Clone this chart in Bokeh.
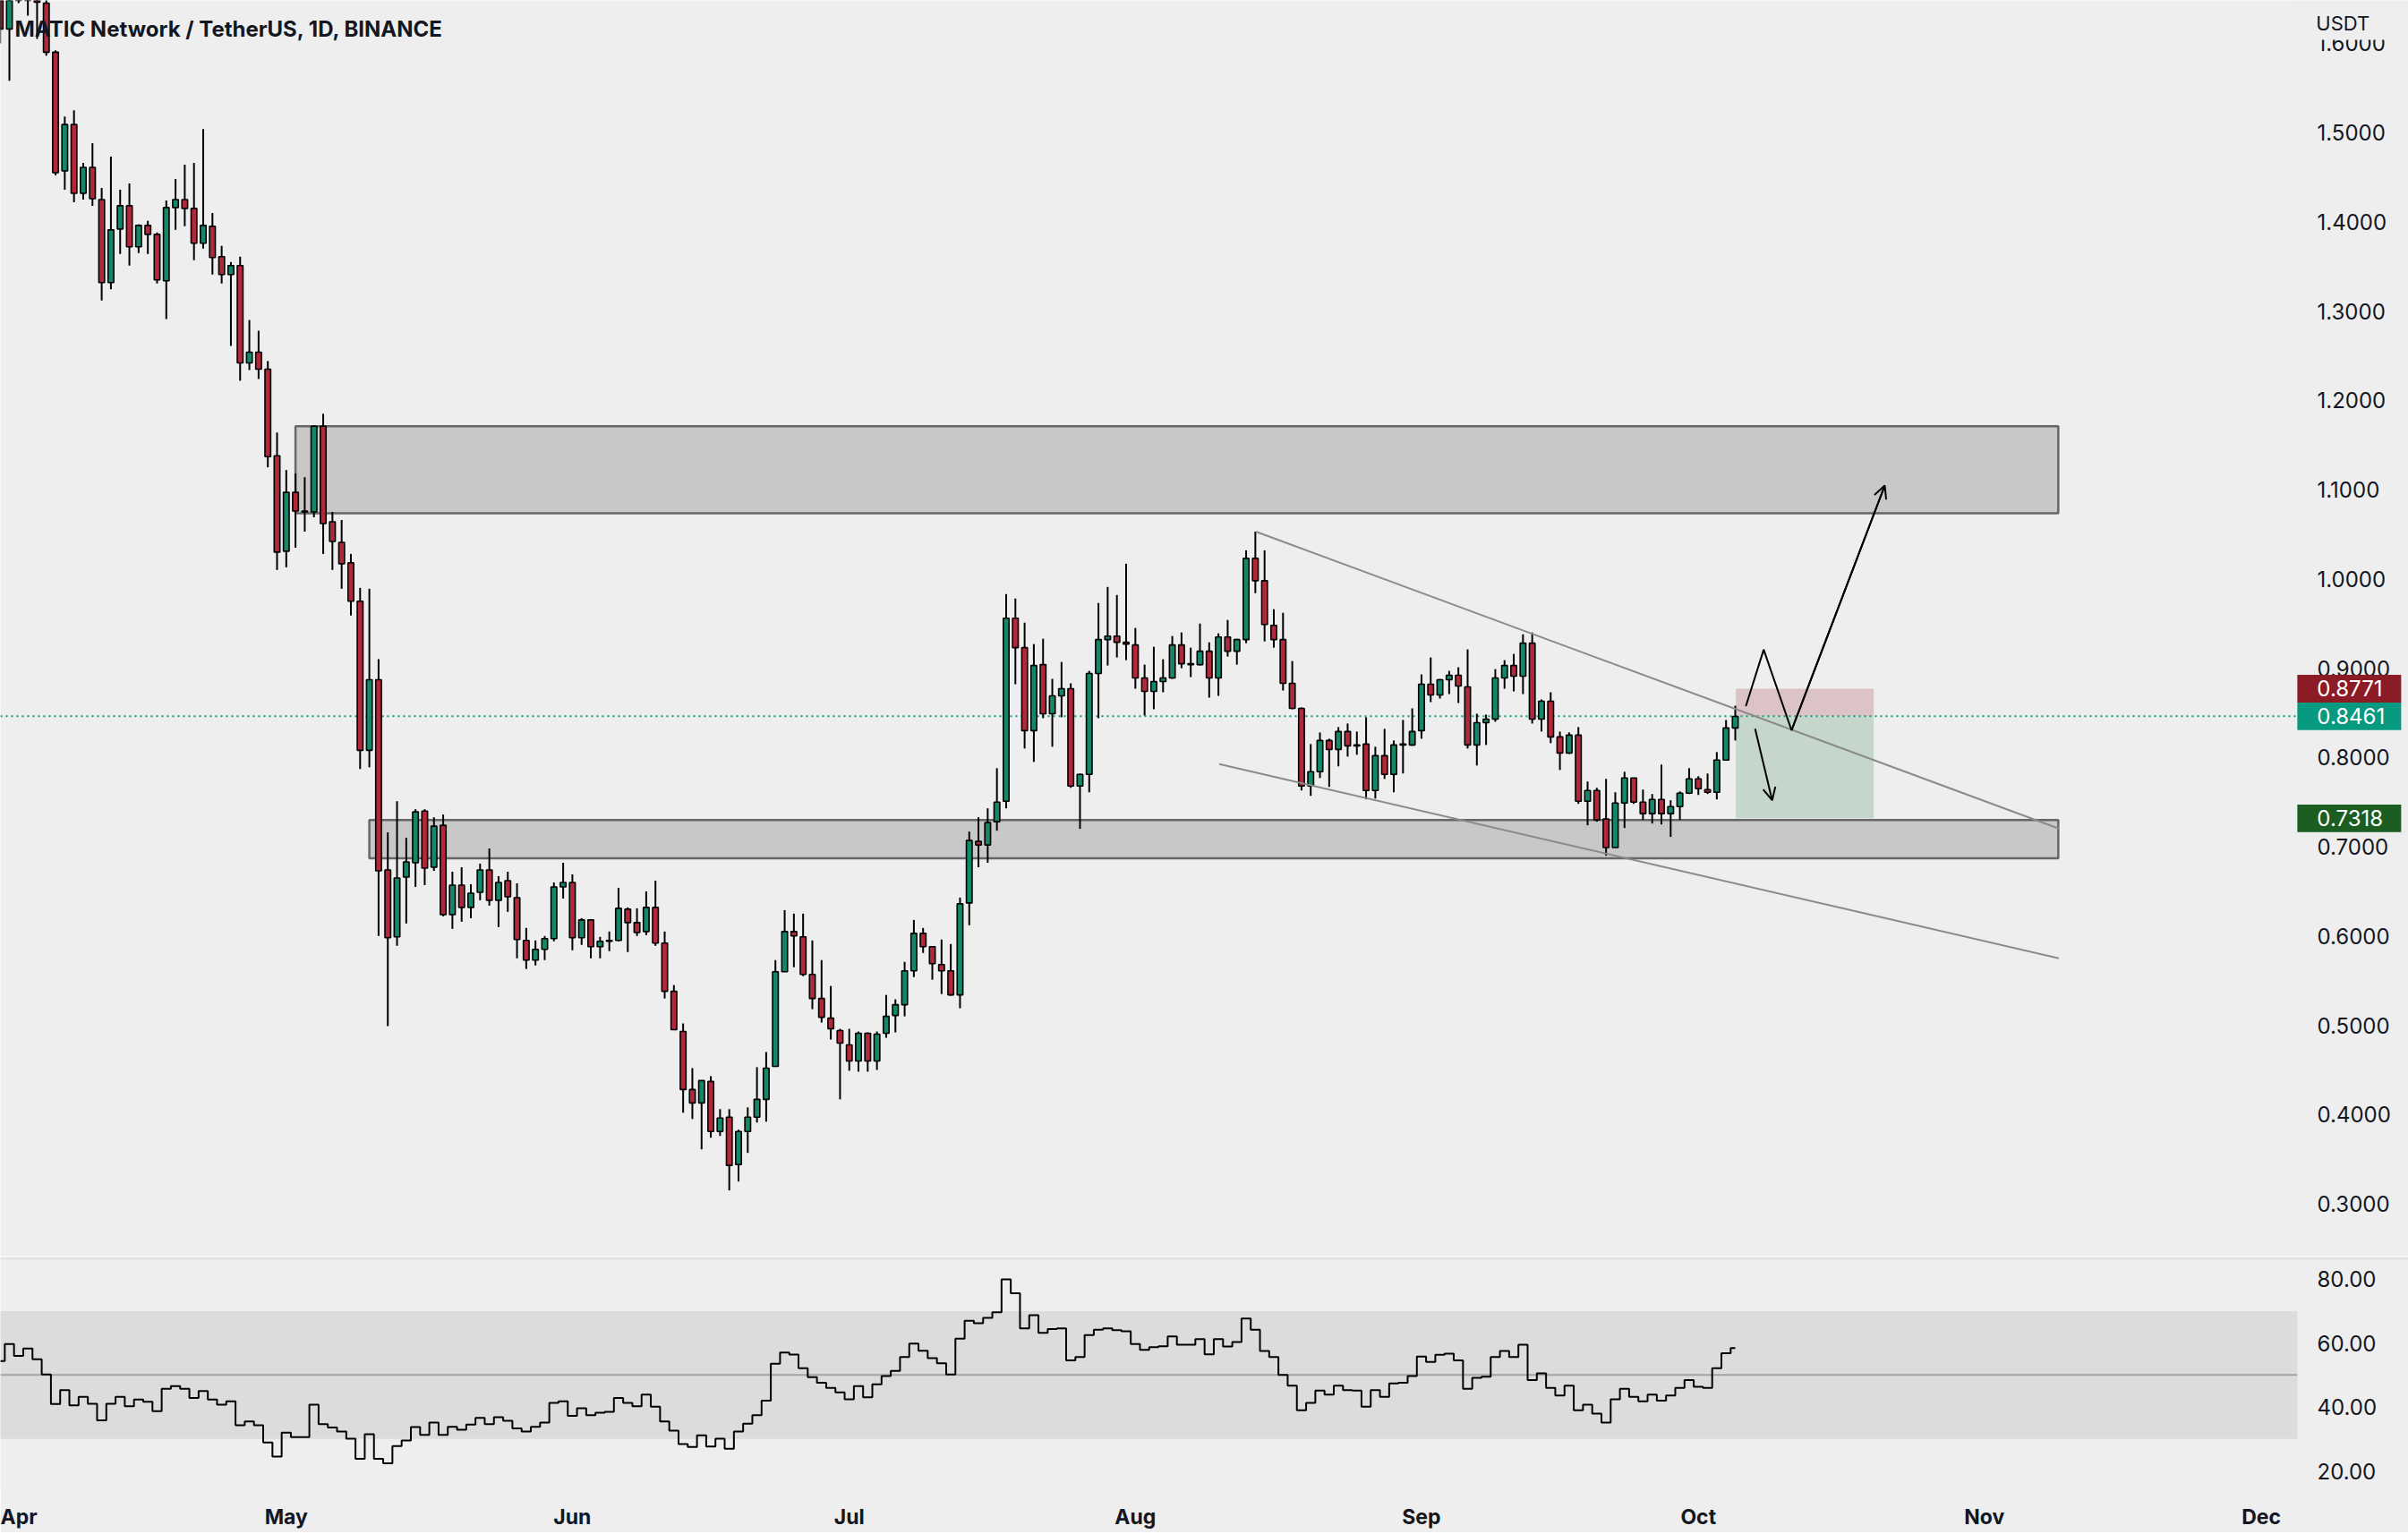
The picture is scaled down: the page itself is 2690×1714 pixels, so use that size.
from bokeh.plotting import figure
from bokeh.layouts import column
from bokeh.models import (Range1d, FixedTicker, PrintfTickFormatter, Label, Span,
                          Arrow, OpenHead, BoxAnnotation)
from bokeh.embed import file_html
from bokeh.resources import INLINE

# ---------------- data (day index: 0 = 1 Apr 2022) ----------------
day = list(range(-1, 188))

open_ = [1.660, 1.616, 1.690, 1.672, 1.690, 1.645, 1.590, 1.457, 1.509, 1.432,
         1.461, 1.425, 1.332, 1.392, 1.418, 1.372, 1.396, 1.386, 1.334, 1.416,
         1.425, 1.415, 1.376, 1.395, 1.361, 1.341, 1.351, 1.242, 1.254, 1.235,
         1.138, 1.031, 1.097, 1.076, 1.075, 1.171, 1.064, 1.041, 1.018, 0.975,
         0.808, 0.887, 0.674, 0.599, 0.666, 0.682, 0.740, 0.677, 0.724, 0.624,
         0.657, 0.632, 0.649, 0.674, 0.640, 0.662, 0.643, 0.595, 0.573, 0.585,
         0.597, 0.655, 0.660, 0.598, 0.618, 0.588, 0.594, 0.595, 0.630, 0.615,
         0.605, 0.632, 0.592, 0.538, 0.493, 0.428, 0.413, 0.437, 0.381, 0.397,
         0.344, 0.381, 0.397, 0.417, 0.454, 0.560, 0.605, 0.599, 0.557, 0.530,
         0.508, 0.494, 0.478, 0.460, 0.491, 0.460, 0.491, 0.511, 0.523, 0.561,
         0.603, 0.588, 0.568, 0.561, 0.534, 0.637, 0.706, 0.702, 0.728, 0.751,
         0.956, 0.923, 0.830, 0.904, 0.849, 0.869, 0.877, 0.768, 0.781, 0.894,
         0.932, 0.936, 0.929, 0.926, 0.889, 0.874, 0.885, 0.889, 0.926, 0.905,
         0.904, 0.919, 0.889, 0.935, 0.919, 0.932, 1.023, 0.998, 0.948, 0.932,
         0.883, 0.855, 0.768, 0.784, 0.819, 0.809, 0.829, 0.813, 0.815, 0.763,
         0.802, 0.781, 0.814, 0.814, 0.830, 0.882, 0.870, 0.887, 0.892, 0.879,
         0.814, 0.839, 0.843, 0.889, 0.903, 0.891, 0.928, 0.843, 0.863, 0.823,
         0.805, 0.825, 0.751, 0.763, 0.731, 0.699, 0.749, 0.777, 0.750, 0.737,
         0.753, 0.737, 0.745, 0.760, 0.776, 0.764, 0.761, 0.797, 0.833]

high = [1.680, 1.705, 1.720, 1.700, 1.700, 1.650, 1.592, 1.518, 1.525, 1.466,
        1.488, 1.438, 1.473, 1.436, 1.443, 1.397, 1.401, 1.388, 1.424, 1.448,
        1.464, 1.466, 1.504, 1.410, 1.373, 1.355, 1.361, 1.290, 1.278, 1.244,
        1.164, 1.122, 1.118, 1.114, 1.172, 1.185, 1.075, 1.066, 1.028, 0.990,
        0.989, 0.910, 0.716, 0.751, 0.710, 0.742, 0.742, 0.733, 0.736, 0.672,
        0.677, 0.658, 0.681, 0.698, 0.667, 0.672, 0.659, 0.609, 0.595, 0.600,
        0.660, 0.682, 0.669, 0.620, 0.619, 0.599, 0.605, 0.654, 0.632, 0.631,
        0.650, 0.662, 0.605, 0.545, 0.502, 0.452, 0.438, 0.443, 0.406, 0.406,
        0.383, 0.408, 0.453, 0.470, 0.573, 0.629, 0.625, 0.625, 0.595, 0.573,
        0.544, 0.496, 0.496, 0.493, 0.492, 0.493, 0.534, 0.529, 0.571, 0.618,
        0.609, 0.588, 0.596, 0.591, 0.643, 0.717, 0.733, 0.743, 0.788, 0.983,
        0.978, 0.951, 0.927, 0.933, 0.888, 0.907, 0.883, 0.782, 0.897, 0.973,
        0.991, 0.982, 1.017, 0.945, 0.904, 0.924, 0.910, 0.936, 0.940, 0.923,
        0.950, 0.929, 0.939, 0.954, 0.933, 1.032, 1.053, 1.032, 0.966, 0.962,
        0.908, 0.856, 0.815, 0.828, 0.821, 0.834, 0.838, 0.829, 0.845, 0.812,
        0.832, 0.819, 0.842, 0.855, 0.893, 0.912, 0.888, 0.897, 0.901, 0.921,
        0.849, 0.848, 0.899, 0.909, 0.916, 0.938, 0.940, 0.865, 0.873, 0.829,
        0.828, 0.834, 0.773, 0.766, 0.776, 0.761, 0.784, 0.777, 0.764, 0.759,
        0.792, 0.752, 0.762, 0.788, 0.779, 0.782, 0.806, 0.842, 0.858]

low = [1.600, 1.558, 1.645, 1.631, 1.605, 1.586, 1.452, 1.436, 1.422, 1.425,
       1.418, 1.312, 1.3245, 1.364, 1.351, 1.365, 1.364, 1.331, 1.291, 1.391,
       1.395, 1.357, 1.370, 1.341, 1.331, 1.261, 1.222, 1.234, 1.224, 1.125,
       1.010, 1.013, 1.035, 1.053, 1.069, 1.028, 1.010, 0.989, 0.959, 0.787,
       0.789, 0.600, 0.499, 0.589, 0.614, 0.655, 0.657, 0.673, 0.622, 0.608,
       0.616, 0.620, 0.640, 0.634, 0.610, 0.627, 0.575, 0.563, 0.567, 0.573,
       0.594, 0.642, 0.584, 0.590, 0.575, 0.575, 0.583, 0.594, 0.582, 0.600,
       0.601, 0.589, 0.530, 0.495, 0.402, 0.395, 0.361, 0.374, 0.376, 0.315,
       0.325, 0.357, 0.391, 0.392, 0.454, 0.560, 0.565, 0.555, 0.518, 0.503,
       0.484, 0.417, 0.449, 0.448, 0.448, 0.450, 0.486, 0.492, 0.510, 0.554,
       0.581, 0.551, 0.535, 0.533, 0.519, 0.612, 0.677, 0.682, 0.718, 0.743,
       0.882, 0.810, 0.795, 0.844, 0.812, 0.845, 0.766, 0.720, 0.761, 0.844,
       0.903, 0.912, 0.909, 0.877, 0.847, 0.854, 0.873, 0.888, 0.900, 0.890,
       0.903, 0.867, 0.869, 0.913, 0.904, 0.928, 0.984, 0.930, 0.923, 0.875,
       0.854, 0.763, 0.757, 0.777, 0.767, 0.790, 0.801, 0.803, 0.753, 0.754,
       0.776, 0.761, 0.782, 0.813, 0.821, 0.862, 0.866, 0.871, 0.861, 0.810,
       0.791, 0.814, 0.840, 0.877, 0.874, 0.871, 0.838, 0.829, 0.816, 0.786,
       0.804, 0.748, 0.724, 0.728, 0.690, 0.699, 0.721, 0.748, 0.730, 0.726,
       0.725, 0.711, 0.730, 0.759, 0.758, 0.759, 0.753, 0.797, 0.819]

close = [1.616, 1.690, 1.672, 1.690, 1.646, 1.590, 1.455, 1.509, 1.432, 1.461,
         1.426, 1.332, 1.391, 1.418, 1.372, 1.396, 1.386, 1.335, 1.416, 1.425,
         1.415, 1.376, 1.396, 1.360, 1.341, 1.351, 1.242, 1.254, 1.235, 1.137,
         1.030, 1.097, 1.076, 1.075, 1.171, 1.062, 1.042, 1.017, 0.975, 0.808,
         0.887, 0.673, 0.598, 0.665, 0.683, 0.739, 0.676, 0.723, 0.624, 0.657,
         0.632, 0.648, 0.674, 0.640, 0.660, 0.644, 0.596, 0.573, 0.585, 0.597,
         0.655, 0.660, 0.598, 0.618, 0.588, 0.594, 0.595, 0.631, 0.615, 0.604,
         0.632, 0.592, 0.538, 0.495, 0.428, 0.413, 0.438, 0.381, 0.396, 0.343,
         0.381, 0.397, 0.417, 0.452, 0.560, 0.605, 0.600, 0.557, 0.530, 0.509,
         0.496, 0.480, 0.460, 0.491, 0.460, 0.490, 0.510, 0.523, 0.561, 0.603,
         0.588, 0.569, 0.561, 0.534, 0.636, 0.707, 0.702, 0.727, 0.750, 0.956,
         0.923, 0.830, 0.903, 0.849, 0.869, 0.877, 0.768, 0.781, 0.894, 0.932,
         0.936, 0.929, 0.927, 0.889, 0.874, 0.885, 0.889, 0.926, 0.905, 0.904,
         0.919, 0.889, 0.935, 0.919, 0.932, 1.023, 0.998, 0.949, 0.932, 0.883,
         0.855, 0.768, 0.784, 0.819, 0.809, 0.829, 0.813, 0.814, 0.763, 0.802,
         0.781, 0.814, 0.815, 0.829, 0.882, 0.870, 0.887, 0.892, 0.880, 0.814,
         0.839, 0.843, 0.889, 0.903, 0.891, 0.928, 0.843, 0.863, 0.823, 0.805,
         0.825, 0.751, 0.763, 0.730, 0.699, 0.749, 0.777, 0.750, 0.737, 0.753,
         0.737, 0.745, 0.760, 0.776, 0.765, 0.761, 0.797, 0.833, 0.846]

rsi = [54.4, 59.7, 56.0, 58.3, 54.9, 50.2, 40.9, 45.3, 40.5, 43.2,
       41.0, 35.8, 41.0, 43.2, 40.2, 42.3, 41.6, 38.7, 45.7, 46.5,
       45.7, 42.8, 45.0, 42.3, 40.7, 41.8, 34.3, 35.5, 34.3, 28.9,
       24.5, 32.0, 30.6, 30.6, 40.7, 34.6, 33.6, 32.3, 30.1, 23.8,
       31.5, 23.8, 22.4, 27.8, 29.5, 33.7, 31.3, 35.1, 31.3, 33.8,
       32.9, 34.5, 36.6, 34.6, 36.8, 35.7, 33.3, 32.3, 33.8, 35.1,
       41.3, 41.8, 37.2, 39.6, 37.4, 38.2, 38.5, 42.8, 41.3, 40.2,
       43.9, 40.1, 35.5, 32.6, 28.4, 27.5, 31.1, 27.6, 30.1, 26.9,
       32.3, 34.8, 37.4, 42.0, 53.5, 57.0, 56.4, 52.1, 49.3, 47.6,
       46.0, 44.6, 42.4, 46.5, 43.0, 47.1, 49.7, 51.3, 55.6, 59.8,
       57.6, 55.3, 53.7, 50.2, 61.4, 67.0, 66.2, 67.9, 69.6, 79.9,
       75.6, 64.6, 68.7, 63.2, 64.4, 64.6, 54.6, 55.6, 62.5, 64.2,
       64.6, 64.0, 63.7, 59.7, 57.9, 58.7, 59.0, 62.1, 59.5, 59.5,
       61.2, 56.5, 61.2, 58.9, 60.3, 67.7, 64.2, 57.5, 55.6, 50.0,
       46.7, 39.0, 41.3, 45.1, 43.9, 46.7, 45.3, 45.1, 40.1, 45.3,
       43.2, 47.4, 47.6, 49.7, 55.8, 54.1, 56.3, 56.7, 54.6, 45.7,
       49.1, 49.5, 55.6, 57.5, 55.6, 59.5, 48.4, 50.5, 46.0, 43.6,
       46.7, 39.0, 40.7, 37.9, 35.1, 42.4, 45.7, 43.2, 41.8, 43.9,
       42.0, 43.6, 46.0, 48.4, 46.3, 46.0, 52.1, 56.8, 58.4]

month_ticks = [0, 30, 61, 91, 122, 153, 183, 214, 244]
month_labels = ["Apr", "May", "Jun", "Jul", "Aug", "Sep", "Oct", "Nov", "Dec"]
price_ticks = [0.3, 0.4, 0.5, 0.6, 0.7, 0.8, 0.9, 1.0, 1.1, 1.2, 1.3, 1.4, 1.5, 1.6]
rsi_ticks = [20, 40, 60, 80]

# drawings (in data units)
zone_left = [31.0, 39.0]
zone_right = [222.0, 222.0]
zone_bottom = [1.0736, 0.687]
zone_top = [1.171, 0.7300]
upper_trend_x = [135.05, 222.05]
upper_trend_y = [1.053, 0.7204]
lower_trend_x = [131.1, 222.05]
lower_trend_y = [0.7925, 0.5751]
pos_left, pos_right = 187.06, 202.0
stop_price, last_price, target_price = 0.8771, 0.8461, 0.7318
zigzag_x = [188.15, 190.08, 193.1, 203.2]
zigzag_y = [0.8575, 0.9208, 0.8304, 1.1046]
down_x = [189.15, 191.0]
down_y = [0.8321, 0.752]
title_text = "MATIC Network / TetherUS, 1D, BINANCE"

# ---------------- styling ----------------
BG = "#eeeeee"
UP = "#148769"
DOWN = "#b0283a"
FONT = "Inter"
TXT = "#131722"

X0 = -0.97          # left edge of the chart (days)
PANE_END = 247.9    # right edge of the drawing area (days), price scale beyond
X1 = 259.94         # right edge of the canvas (days)
Y_TOP = 1.648
x_range = Range1d(X0, X1)
TAG_W = 11.25       # price-tag width in days (~116 px)
TAG_H = 0.0155      # half height of a price tag in price units (~15 px)


def style_right_axis(ax):
    ax.major_label_text_font = FONT
    ax.major_label_text_font_size = "24px"
    ax.major_label_text_color = TXT
    ax.major_tick_line_color = None
    ax.minor_tick_line_color = None
    ax.axis_line_color = None
    ax.major_tick_out = 0
    ax.major_tick_in = 0
    ax.major_label_standoff = -102


p = figure(frame_width=2690, frame_height=1403, x_range=x_range,
           y_range=Range1d(0.2414, Y_TOP), output_backend="svg",
           toolbar_location=None, y_axis_location="right", x_axis_location=None,
           background_fill_color=BG, border_fill_color=BG,
           min_border_left=0, min_border_top=0, min_border_bottom=0,
           min_border_right=0)
p.outline_line_color = None
p.grid.visible = False

# zones
p.quad(left=zone_left, right=zone_right, bottom=zone_bottom, top=zone_top,
       fill_color="#c8c8c8", line_color="#666666", line_width=2.5)
# position boxes
p.quad(left=[pos_left], right=[pos_right], bottom=[last_price], top=[stop_price],
       fill_color="#dcc3c7", line_color=None)
p.quad(left=[pos_left], right=[pos_right], bottom=[target_price], top=[last_price],
       fill_color="#c5d6ca", line_color=None)

# last price dotted line
p.segment(x0=[X0], y0=[last_price], x1=[PANE_END], y1=[last_price],
          line_color="#089981", line_dash="2 4", line_width=2)

# candles
body_top = [max(o, c) for o, c in zip(open_, close)]
body_bot = [min(o, c) for o, c in zip(open_, close)]
colors = [UP if c >= o else DOWN for o, c in zip(open_, close)]
p.segment(x0=day, y0=low, x1=day, y1=high, line_color="black", line_width=2)
p.vbar(x=day, width=0.62, top=body_top, bottom=body_bot, fill_color=colors,
       line_color="black", line_width=1.6)

# trend lines
p.line(upper_trend_x, upper_trend_y, line_color="#8a8a8a", line_width=2)
p.line(lower_trend_x, lower_trend_y, line_color="#8a8a8a", line_width=2)

# projection arrows
p.line(zigzag_x, zigzag_y, line_color="black", line_width=2)
p.add_layout(Arrow(end=OpenHead(size=14, line_width=2, line_color="black"),
                   x_start=zigzag_x[-2], y_start=zigzag_y[-2],
                   x_end=zigzag_x[-1], y_end=zigzag_y[-1],
                   line_color="black", line_width=2))
p.add_layout(Arrow(end=OpenHead(size=14, line_width=2, line_color="black"),
                   x_start=down_x[0], y_start=down_y[0],
                   x_end=down_x[1], y_end=down_y[1],
                   line_color="black", line_width=2))

# price axis
p.yaxis.ticker = FixedTicker(ticks=price_ticks)
p.yaxis.formatter = PrintfTickFormatter(format="%.4f")
style_right_axis(p.yaxis[0])

# title
p.add_layout(Label(x=X0, y=1.616, x_offset=16, text=title_text,
                   text_font=FONT, text_font_size="24px", text_font_style="bold",
                   text_color=TXT, text_baseline="middle"))

# USDT header (its background hides the top half of the clipped top tick)
p.add_layout(BoxAnnotation(left=PANE_END, right=X1, bottom=Y_TOP - 0.0441, top=Y_TOP,
                           fill_color=BG, fill_alpha=1.0, line_color=None))
p.add_layout(Label(x=PANE_END, y=1.622, x_offset=21, text="USDT",
                   text_font=FONT, text_font_size="22px", text_color=TXT,
                   text_baseline="middle", text_align="left"))

# price tags on the scale
for val, col in [(stop_price, "#8b1b24"), (last_price, "#089981"), (target_price, "#1c5e21")]:
    p.add_layout(BoxAnnotation(left=PANE_END, right=PANE_END + TAG_W,
                               bottom=val - TAG_H, top=val + TAG_H,
                               fill_color=col, fill_alpha=1.0, line_color=None))
    p.add_layout(Label(x=PANE_END, y=val, x_offset=22, text=f"{val:.4f}",
                       text_font=FONT, text_font_size="24px", text_color="white",
                       text_baseline="middle", text_align="left"))

# ---------------- RSI pane ----------------
r = figure(frame_width=2690, frame_height=255, x_range=x_range,
           y_range=Range1d(15.24, 86.64), output_backend="svg",
           toolbar_location=None, y_axis_location="right", x_axis_location="below",
           background_fill_color=BG, border_fill_color=BG,
           min_border_left=0, min_border_top=2, min_border_bottom=52,
           min_border_right=0)
r.outline_line_color = None
r.grid.visible = False
r.quad(left=[X0], right=[PANE_END], bottom=[30], top=[70],
       fill_color="#dcdcdc", line_color=None)
r.segment(x0=[X0], y0=[50], x1=[PANE_END], y1=[50], line_color="#a3a3a3", line_width=2)
r.add_layout(Span(location=86.4, dimension="width", line_color="#dddddd", line_width=2))
r.step(x=day, y=rsi, mode="center", line_color="black", line_width=2)

r.yaxis.ticker = FixedTicker(ticks=rsi_ticks)
r.yaxis.formatter = PrintfTickFormatter(format="%.2f")
style_right_axis(r.yaxis[0])

r.xaxis.ticker = FixedTicker(ticks=month_ticks)
r.xaxis.major_label_overrides = {t: lab for t, lab in zip(month_ticks, month_labels)}
r.xaxis.major_label_text_font = FONT
r.xaxis.major_label_text_font_size = "23px"
r.xaxis.major_label_text_font_style = "bold"
r.xaxis.major_label_text_color = TXT
r.xaxis.major_tick_line_color = None
r.xaxis.minor_tick_line_color = None
r.xaxis.axis_line_color = None
r.xaxis.major_label_standoff = 14

layout = column(p, r, spacing=0)
open("out.html", "w").write(file_html(layout, INLINE))
